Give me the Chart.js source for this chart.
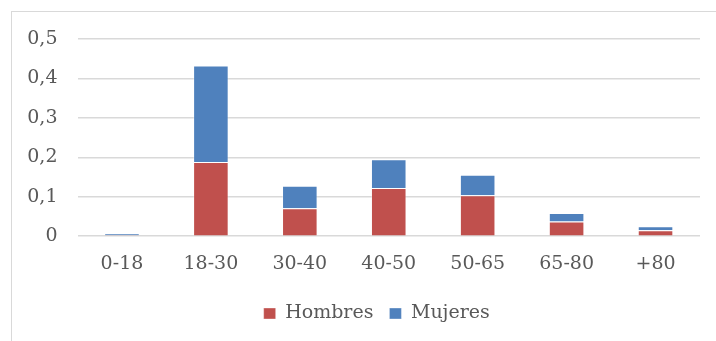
<!DOCTYPE html>
<html>
<head>
<meta charset="utf-8">
<script src="https://cdn.jsdelivr.net/npm/chart.js@4/dist/chart.umd.min.js"></script>
<style>
  html, body { margin: 0; padding: 0; background: #fff; overflow: hidden; width: 716px; height: 341px; }
  #frame {
    position: absolute; left: 11px; top: 11px;
    width: 740px; height: 340px;
    border-left: 1px solid #d9d9d9; border-top: 1px solid #d9d9d9;
    overflow: hidden;
  }
  #wrap { position: absolute; left: 0; top: 0; width: 704px; height: 329px; }
</style>
</head>
<body>
<div id="frame"><div id="wrap"><canvas id="c"></canvas></div></div>
<script>
// Age groups
const categories = ['0-18', '18-30', '30-40', '40-50', '50-65', '65-80', '+80'];
// Stacked shares per group
const hombres = [0.0025, 0.188, 0.071, 0.122, 0.104, 0.037, 0.015];
const mujeres = [0.005, 0.245, 0.057, 0.073, 0.052, 0.022, 0.0105];
// Value axis labels (decimal comma)
const yTickLabels = ['0', '0,1', '0,2', '0,3', '0,4', '0,5'];

const FONT = { family: '"DejaVu Serif", serif', size: 19 };
const TEXT = '#595959';

// Nudge the legend a little to the right of the canvas centre
const legendShift = {
  id: 'legendShift',
  afterLayout(chart) {
    chart.legend.left += 13;
    chart.legend.right += 13;
  }
};

new Chart(document.getElementById('c'), {
  type: 'bar',
  data: {
    labels: categories,
    datasets: [
      { label: 'Hombres', data: hombres, backgroundColor: '#C0504D',
        borderColor: 'rgba(255,255,255,0.35)', borderWidth: 1, borderSkipped: 'bottom' },
      { label: 'Mujeres', data: mujeres, backgroundColor: '#4F81BD',
        borderColor: 'rgba(255,255,255,0.35)', borderWidth: 1, borderSkipped: 'bottom' }
    ]
  },
  plugins: [legendShift],
  options: {
    responsive: true,
    maintainAspectRatio: false,
    animation: false,
    layout: { padding: { left: 15.5, right: 16, top: 27, bottom: 8 } },
    datasets: { bar: { categoryPercentage: 0.8, barPercentage: 0.5 } },
    scales: {
      x: {
        stacked: true,
        grid: { display: false, drawTicks: false },
        border: { display: false },
        ticks: { color: TEXT, font: FONT, padding: 16, maxRotation: 0 },
        afterFit(scale) { scale.height -= 3; }
      },
      y: {
        stacked: true,
        min: 0, max: 0.5,
        grid: { color: '#d9d9d9', lineWidth: 1.5, drawTicks: false },
        border: { display: false },
        ticks: {
          stepSize: 0.1, color: TEXT, font: FONT, padding: 20,
          callback: (v, i) => yTickLabels[i]
        },
        afterFit(scale) {
          scale.width = 50;
          scale.paddingTop = 0;
          scale.paddingBottom = 0;
        }
      }
    },
    plugins: {
      legend: {
        position: 'bottom',
        labels: { color: TEXT, font: FONT, boxWidth: 12, boxHeight: 11, padding: 16 }
      },
      tooltip: { enabled: false }
    }
  }
});
</script>
</body>
</html>
